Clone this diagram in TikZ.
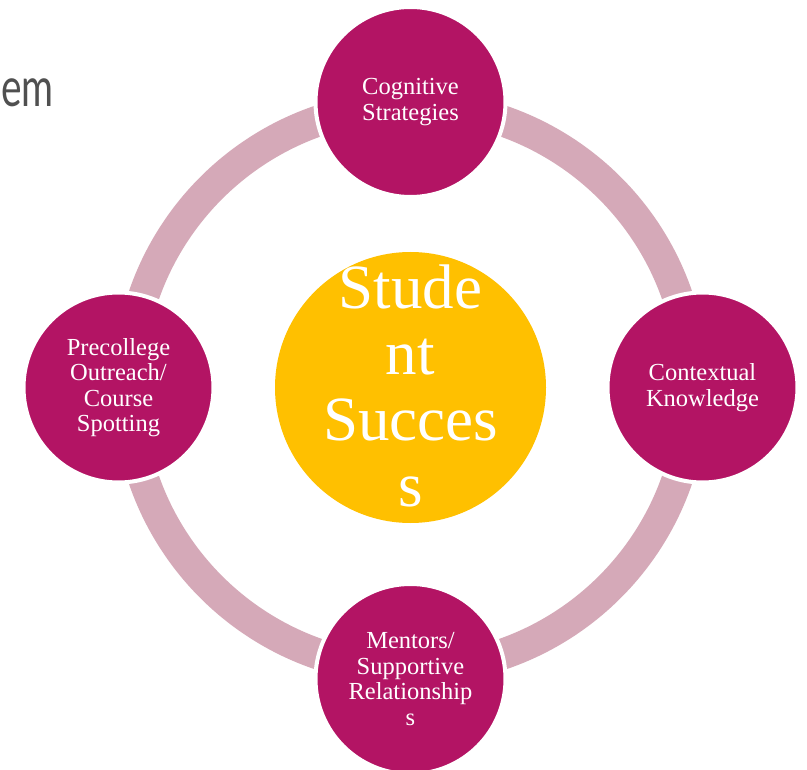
\documentclass[tikz,border=0pt]{standalone}
\usepackage{fontspec}
\setmainfont{Liberation Serif}
\newfontfamily\titlefont{Lato}
\definecolor{ringpink}{HTML}{D5A9B8}
\definecolor{mag}{HTML}{B31464}
\definecolor{gold}{HTML}{FFC000}
\definecolor{titlegray}{HTML}{505050}
\tikzset{
  outer/.style={circle, fill=mag, draw=white, line width=4pt, minimum size=190pt,
    inner sep=0pt},
  outertext/.style={inner sep=0pt, align=center, text=white, font=\fontsize{24.5}{25.5}\selectfont},
  hub/.style={circle, fill=gold, minimum size=271pt, inner sep=0pt},
  hubtext/.style={inner sep=0pt, align=center, text=white, font=\fontsize{63}{66}\selectfont},
  ringline/.style={draw=ringpink, line width=31pt}
}
\begin{document}
\begin{tikzpicture}[x=1pt,y=-1pt]
\useasboundingbox (0,0) rectangle (807,770);
\fill[white] (0,0) rectangle (807,770);
\coordinate (c) at (410.5,387.5);
\draw[ringline] (c) circle[radius=282];
\node[hub] (hub) at (c) {};
\node[hubtext] (hubt) at ([yshift=2pt]c) {Stude\\nt\\Succes\\s};
\node[outer] (top) at (410.5,102) {};
\node[outertext] at (top) {Cognitive\\Strategies};
\node[outer] (right) at (702.5,387.5) {};
\node[outertext] at (right) {Contextual\\Knowledge};
\node[outer] (bottom) at (410.5,679) {};
\node[outertext] at (bottom) {Mentors/\\Supportive\\Relationship\\s};
\node[outer] (left) at (118.5,387.5) {};
\node[outertext] at (left) {Precollege\\Outreach/\\Course\\Spotting};
\node[anchor=base west, inner sep=0pt, text=titlegray,
  font=\titlefont\fontsize{54}{54}\selectfont] (title) at (1,107) {\scalebox{0.72}[1]{em}};
\end{tikzpicture}
\end{document}
